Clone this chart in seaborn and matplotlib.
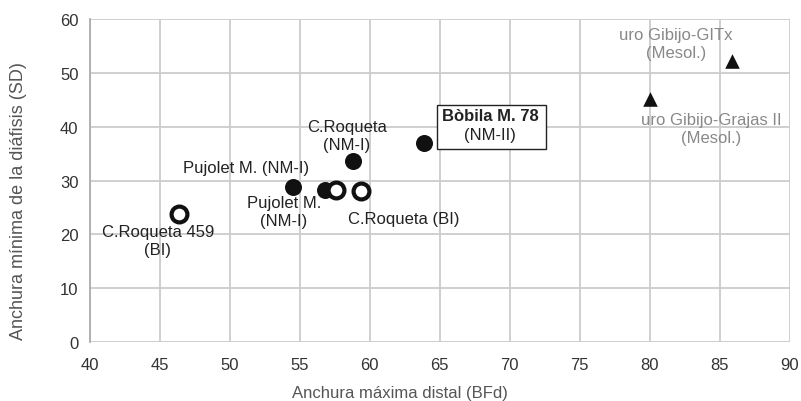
import matplotlib
matplotlib.use("Agg")
import matplotlib.pyplot as plt
import seaborn as sns
import pandas as pd
from matplotlib.patches import Rectangle

sns.set_theme(style="whitegrid")
plt.rcParams['font.family'] = ['Liberation Sans', 'DejaVu Sans']

# Data
filled_x = [54.5, 56.8, 58.8, 63.9]
filled_y = [28.8, 28.3, 33.6, 37.0]
open_x = [46.4, 57.6, 59.4]
open_y = [23.8, 28.3, 28.0]
tri_x = [80.0, 85.9]
tri_y = [45.2, 52.2]

labels = ["C.Roqueta\n(NM-I)", "Pujolet M. (NM-I)", "Pujolet M.\n(NM-I)",
          "C.Roqueta (BI)", "C.Roqueta 459\n(BI)"]
label_x = [58.36, 51.2, 53.86, 62.4, 44.86]
label_y = [38.3, 32.5, 24.3, 23.0, 18.8]
gray_labels = ["uro Gibijo-GITx\n(Mesol.)", "uro Gibijo-Grajas II\n(Mesol.)"]
gray_x = [81.86, 84.36]
gray_y = [55.4, 39.6]

df_f = pd.DataFrame({"x": filled_x, "y": filled_y})
df_o = pd.DataFrame({"x": open_x, "y": open_y})
df_t = pd.DataFrame({"x": tri_x, "y": tri_y})

fig = plt.figure(figsize=(8.01, 4.02), dpi=100)
ax = fig.add_axes([0.112, 0.147, 0.874, 0.803])

sns.scatterplot(data=df_f, x="x", y="y", ax=ax, marker="o", s=150,
                color="#111111", edgecolor="#111111", linewidth=0, zorder=3)
sns.scatterplot(data=df_o, x="x", y="y", ax=ax, marker="o", s=130,
                facecolor="white", edgecolor="#111111", linewidth=3, zorder=3)
sns.scatterplot(data=df_t, x="x", y="y", ax=ax, marker="^", s=110,
                color="#111111", edgecolor="#111111", linewidth=0, zorder=3)

ax.set_xlim(40, 90)
ax.set_ylim(0, 60)
ax.set_xticks(range(40, 91, 5))
ax.set_yticks(range(0, 61, 10))
ax.grid(True, color="#cccccc", linewidth=1.3)
for s in ["top", "right", "bottom"]:
    ax.spines[s].set_visible(False)
ax.spines["left"].set_visible(True)
ax.spines["left"].set_color("#aaaaaa")
ax.tick_params(axis="both", labelsize=12, colors="#333333", length=0)
ax.tick_params(axis="x", pad=11)
ax.tick_params(axis="y", pad=8)
ax.set_xlabel("Anchura máxima distal (BFd)", fontsize=12, color="#555555")
ax.xaxis.set_label_coords(0.443, -0.133)
ax.set_ylabel("Anchura mínima de la diáfisis (SD)", fontsize=13, color="#555555")
ax.yaxis.set_label_coords(-0.089, 0.44)

for t, x, y in zip(labels, label_x, label_y):
    ax.text(x, y, t, ha="center", va="center", fontsize=12, color="#222222",
            linespacing=1.25, zorder=4)
for t, x, y in zip(gray_labels, gray_x, gray_y):
    ax.text(x, y, t, ha="center", va="center", fontsize=12, color="#888888",
            linespacing=1.25, zorder=4)

ax.add_patch(Rectangle((64.8, 35.85), 7.77, 8.15, facecolor="white",
                       edgecolor="#222222", linewidth=1.0, zorder=4))
ax.text(68.6, 42.0, "Bòbila M. 78", ha="center", va="center", fontsize=12,
        fontweight="bold", color="#222222", zorder=5)
ax.text(68.6, 38.5, "(NM-II)", ha="center", va="center", fontsize=12,
        color="#222222", zorder=5)

fig.savefig("out.png", dpi=100)
